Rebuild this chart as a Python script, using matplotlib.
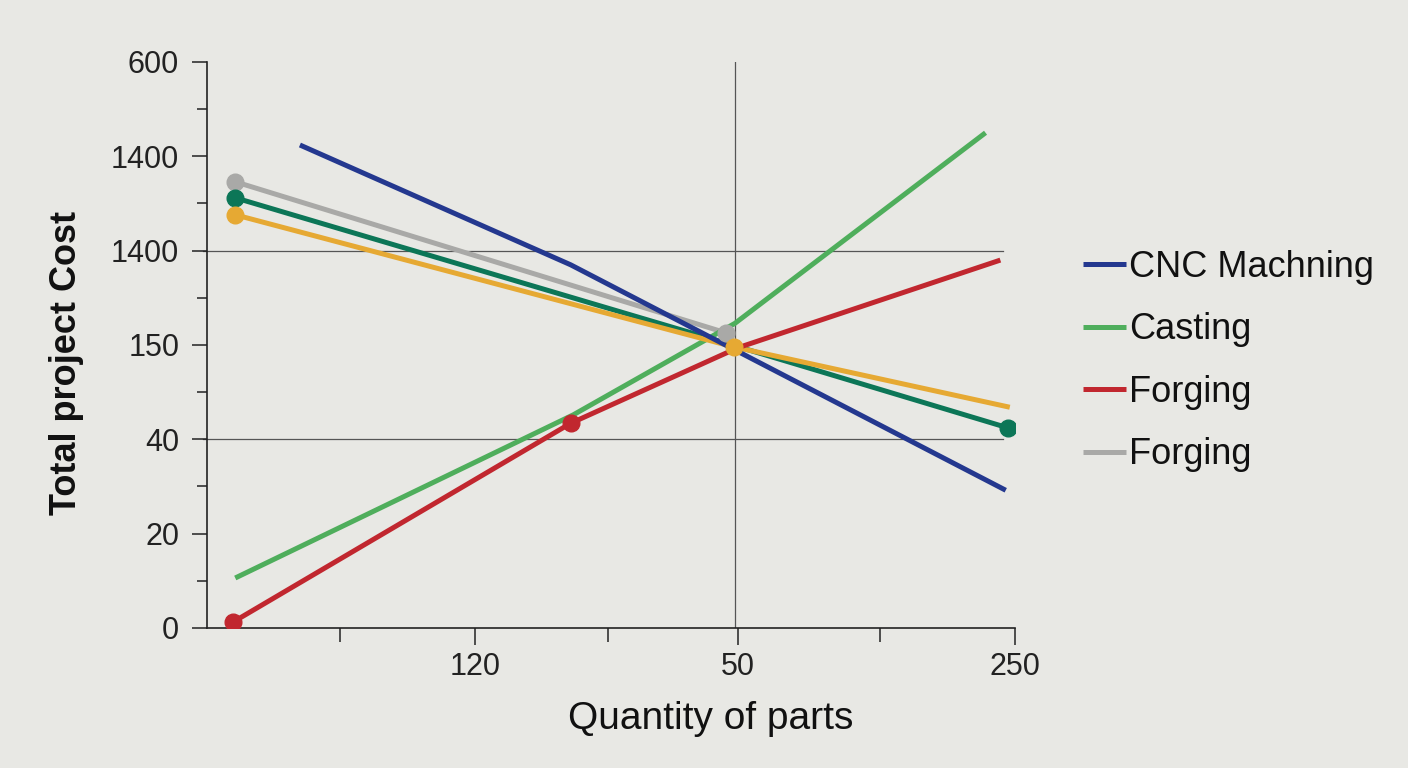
import matplotlib
matplotlib.use("Agg")
import matplotlib.pyplot as plt

plt.rcParams['font.family'] = ['Liberation Sans', 'DejaVu Sans']

# ---- data (positions are tick indices) ----
x_ticks = [1.99, 3.94, 6.0]
x_ticklabels = ["120", "50", "250"]
x_minor = [0.99, 2.98, 5.0]
y_ticks = [0, 1, 2, 3, 4, 5, 6]
y_ticklabels = ["0", "20", "40", "150", "1400", "1400", "600"]
y_minor = [0.5, 1.5, 2.5, 3.5, 4.5, 5.5]
grid_y = [2, 4]
grid_x = [3.92]

cnc_x = [0.69, 2.70, 5.93]
cnc_y = [5.12, 3.85, 1.46]

casting_x = [0.21, 2.72, 3.92, 5.78]
casting_y = [0.53, 2.26, 3.23, 5.25]

forging_x = [0.19, 2.70, 3.94, 5.89]
forging_y = [0.06, 2.17, 2.97, 3.90]

gray_x = [0.21, 3.85]
gray_y = [4.73, 3.13]

teal_x = [0.21, 3.90, 5.95]
teal_y = [4.56, 3.00, 2.12]

orange_x = [0.21, 3.91, 5.96]
orange_y = [4.38, 2.98, 2.34]

legend_labels = ["CNC Machning", "Casting", "Forging", "Forging"]

# ---- style ----
BG = "#e8e8e4"
C_BLUE = "#24388f"
C_GREEN = "#4fae5c"
C_RED = "#c1272f"
C_GRAY = "#a9a9a7"
C_TEAL = "#0c7657"
C_ORANGE = "#e6a933"
LW = 3.6
MS = 12

fig = plt.figure(figsize=(14.08, 7.68), dpi=100, facecolor=BG)
ax = fig.add_axes([0.147, 0.1823, 0.574, 0.737], facecolor=BG)

ax.set_xlim(0, 6)
ax.set_ylim(0, 6)

# grid
for gy in grid_y:
    ax.axhline(gy, xmin=-0.005, xmax=0.985, color="#555555", lw=0.9, zorder=1, clip_on=False)
for gx in grid_x:
    ax.axvline(gx, color="#555555", lw=0.9, zorder=1)

# lines
l_gray, = ax.plot(gray_x, gray_y, color=C_GRAY, lw=LW, zorder=3, solid_capstyle='butt')
ax.plot([gray_x[0], gray_x[-1]], [gray_y[0], gray_y[-1]], 'o', color=C_GRAY, ms=MS, zorder=6)

l_teal, = ax.plot(teal_x, teal_y, color=C_TEAL, lw=LW, zorder=3, solid_capstyle='butt')
ax.plot([teal_x[0], teal_x[-1]], [teal_y[0], teal_y[-1]], 'o', color=C_TEAL, ms=MS, zorder=6)

l_orange, = ax.plot(orange_x, orange_y, color=C_ORANGE, lw=LW, zorder=4, solid_capstyle='butt')
ax.plot([orange_x[0], orange_x[1]], [orange_y[0], orange_y[1]], 'o', color=C_ORANGE, ms=MS, zorder=7)

l_cnc, = ax.plot(cnc_x, cnc_y, color=C_BLUE, lw=LW, zorder=4, solid_capstyle='butt')
l_cast, = ax.plot(casting_x, casting_y, color=C_GREEN, lw=LW, zorder=3, solid_capstyle='butt')
l_forg, = ax.plot(forging_x, forging_y, color=C_RED, lw=LW, zorder=4, solid_capstyle='butt')
ax.plot([forging_x[0], forging_x[1]], [forging_y[0], forging_y[1]], 'o', color=C_RED, ms=MS, zorder=7)

# spines / ticks
for s in ["top", "right"]:
    ax.spines[s].set_visible(False)
for s in ["left", "bottom"]:
    ax.spines[s].set_color("#222222")
    ax.spines[s].set_linewidth(1.2)

ax.set_xticks(x_ticks)
ax.set_xticklabels(x_ticklabels)
ax.set_xticks(x_minor, minor=True)
ax.set_yticks(y_ticks)
ax.set_yticklabels(y_ticklabels)
ax.set_yticks(y_minor, minor=True)
ax.tick_params(axis='x', which='major', length=12, width=1.1, pad=5, labelsize=22, colors="#222222")
ax.tick_params(axis='x', which='minor', length=10, width=1.1, colors="#222222")
ax.tick_params(axis='y', which='major', length=11, width=1.1, pad=9, labelsize=22, colors="#222222")
ax.tick_params(axis='y', which='minor', length=7, width=1.1, colors="#222222")

fig.text(0.0475, 0.528, "Total project Cost", rotation=90, ha='center', va='center',
         fontsize=26, fontweight='bold', color="#111111")
fig.text(0.505, 0.064, "Quantity of parts", ha='center', va='center',
         fontsize=28, color="#111111")

fig.legend([l_cnc, l_cast, l_forg, l_gray], legend_labels,
           loc='upper left', bbox_to_anchor=(1083 / 1408, 1 - 250 / 768),
           frameon=False, fontsize=26, handlelength=1.2, handletextpad=0.08,
           labelspacing=0.76, borderpad=0, borderaxespad=0, labelcolor="#111111")

fig.savefig("out.png", dpi=100, facecolor=BG)
